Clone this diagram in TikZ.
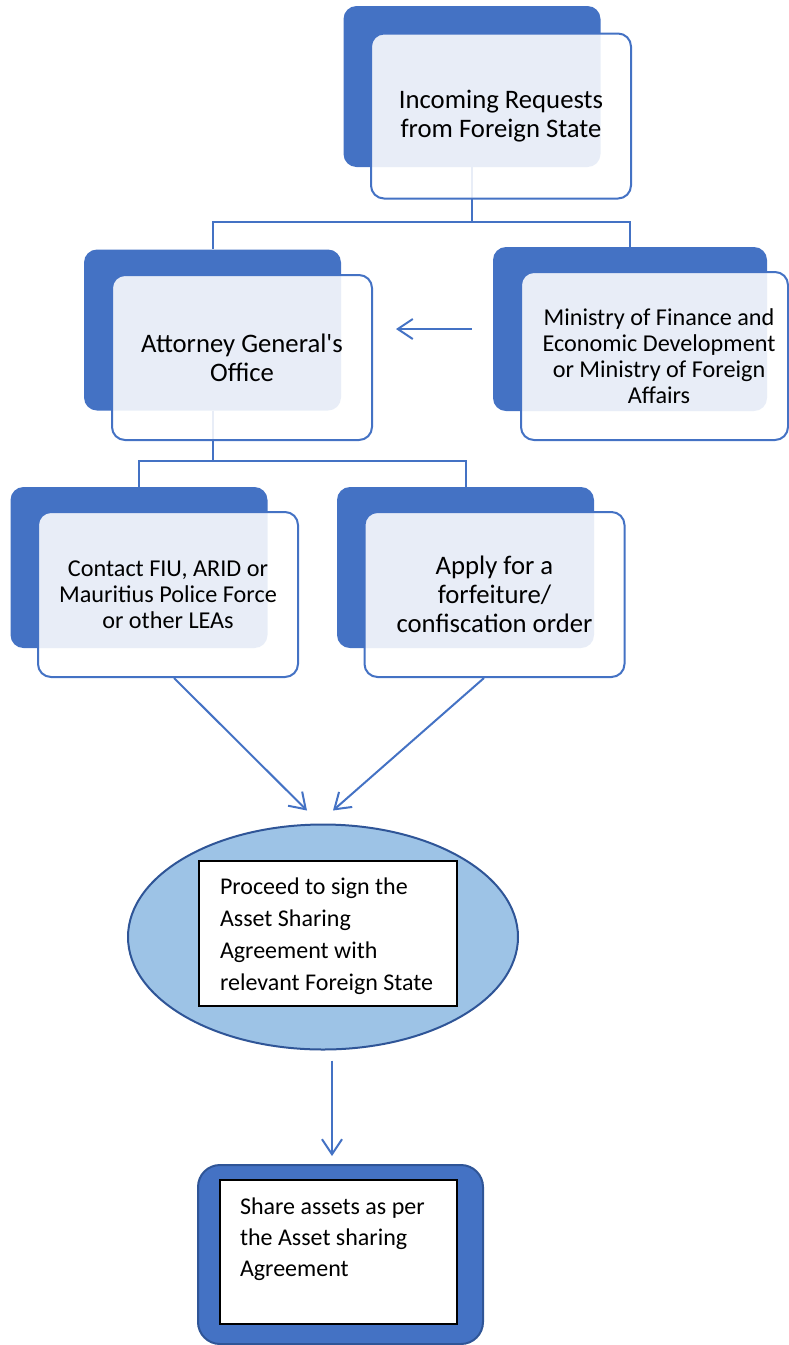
\documentclass[tikz,border=0pt]{standalone}
\usepackage{fontspec}
\setmainfont{Carlito}
\usetikzlibrary{shapes.geometric,arrows.meta,calc}

\definecolor{tilecol}{HTML}{4472C4}
\definecolor{rimcol}{HTML}{2F5597}
\definecolor{ovalcol}{HTML}{9DC3E6}
\newcommand{\bigfont}{\fontsize{26.7}{29}\selectfont}
\newcommand{\medfont}{\fontsize{24.2}{26}\selectfont}
\newcommand{\boxfont}{\fontsize{24}{32}\selectfont}

\begin{document}
\begin{tikzpicture}[x=1pt,y=-1pt,
    backtile/.style={fill=tilecol, rounded corners=13pt, minimum width=257pt, minimum height=161pt},
    fronttile/.style={draw=tilecol, line width=2pt, fill=white, fill opacity=0.88, text opacity=1,
        rounded corners=13pt, minimum width=260pt, minimum height=165pt, align=center},
    link/.style={draw=tilecol, line width=2pt},
    flow/.style={draw=tilecol, line width=2pt, -{Straight Barb[length=15pt,width=20pt]}},
    textbox/.style={draw=black, line width=1.2pt, fill=white, font=\boxfont}]
    \useasboundingbox (0,0) rectangle (789,1345);

    % Back tiles
    \node[backtile] (inback) at (472,86.5) {};
    \node[backtile] (agback) at (212.5,330) {};
    \node[backtile, minimum width=274pt, minimum height=164pt] (minback) at (630,329) {};
    \node[backtile] (ctback) at (139,567.5) {};
    \node[backtile] (apback) at (465.5,567.5) {};

    % Tree connectors
    \coordinate (split1) at (472,222);
    \coordinate (split2) at (212.5,461);
    \draw[link] (inback.south) -- (split1) -| (agback.north);
    \draw[link] (split1) -| (minback.north);
    \draw[link] (agback.south) -- (split2) -| (ctback.north);
    \draw[link] (split2) -| (apback.north);

    % Front tiles
    \node[fronttile, font=\bigfont] (infront) at (501,116) {Incoming Requests\\from Foreign State};
    \node[fronttile, font=\bigfont] (agfront) at (242,357.5) {Attorney General\textquotesingle s\\Office};
    \node[fronttile, font=\medfont, minimum width=267pt, minimum height=168pt] (minfront) at (654.5,356)
        {\hspace*{9pt}Ministry of Finance and\\\hspace*{9pt}Economic Development\\\hspace*{9pt}or Ministry of Foreign\\\hspace*{9pt}Affairs};
    \node[fronttile, font=\medfont] (ctfront) at (168,594.5) {Contact FIU, ARID or\\Mauritius Police Force\\or other LEAs};
    \node[fronttile, font=\bigfont] (apfront) at (494.5,594.5) {Apply for a\\forfeiture/\\confiscation order};

    % Agreement oval
    \node[ellipse, draw=rimcol, line width=2pt, fill=ovalcol, minimum width=390pt, minimum height=225pt] (sign) at (323,937) {};
    \node[textbox, inner xsep=21pt, inner ysep=17pt] (signtext) at (328,933.5)
        {\parbox[c][111pt][t]{216pt}{\raggedright Proceed to sign the\\Asset Sharing\\Agreement with\\relevant Foreign State}};

    % Final tile
    \node[draw=rimcol, line width=2pt, fill=tilecol, rounded corners=22pt, minimum width=285pt, minimum height=179pt] (shareback) at (340.5,1254.5) {};
    \node[textbox, font=\fontsize{24}{31}\selectfont, inner xsep=20pt, inner ysep=18pt] (share) at (338.5,1252)
        {\parbox[c][108pt][t]{197pt}{\raggedright Share assets as per\\the Asset sharing\\Agreement}};

    % Arrows
    \draw[flow] ($(minback.west)+(-21,0)$) -- ($(minback.west -| agfront.east)+(23,0)$);
    \draw[flow] ($(ctfront.south)+(6,0)$) -- ($(sign.north)+(-16,-13)$);
    \draw[flow] ($(apfront.south)+(-10.5,0)$) -- ($(sign.north)+(10,-13)$);
    \draw[flow] ($(sign.south)+(9,10)$) -- ($(shareback.north)+(-8.5,-8)$);
\end{tikzpicture}
\end{document}
